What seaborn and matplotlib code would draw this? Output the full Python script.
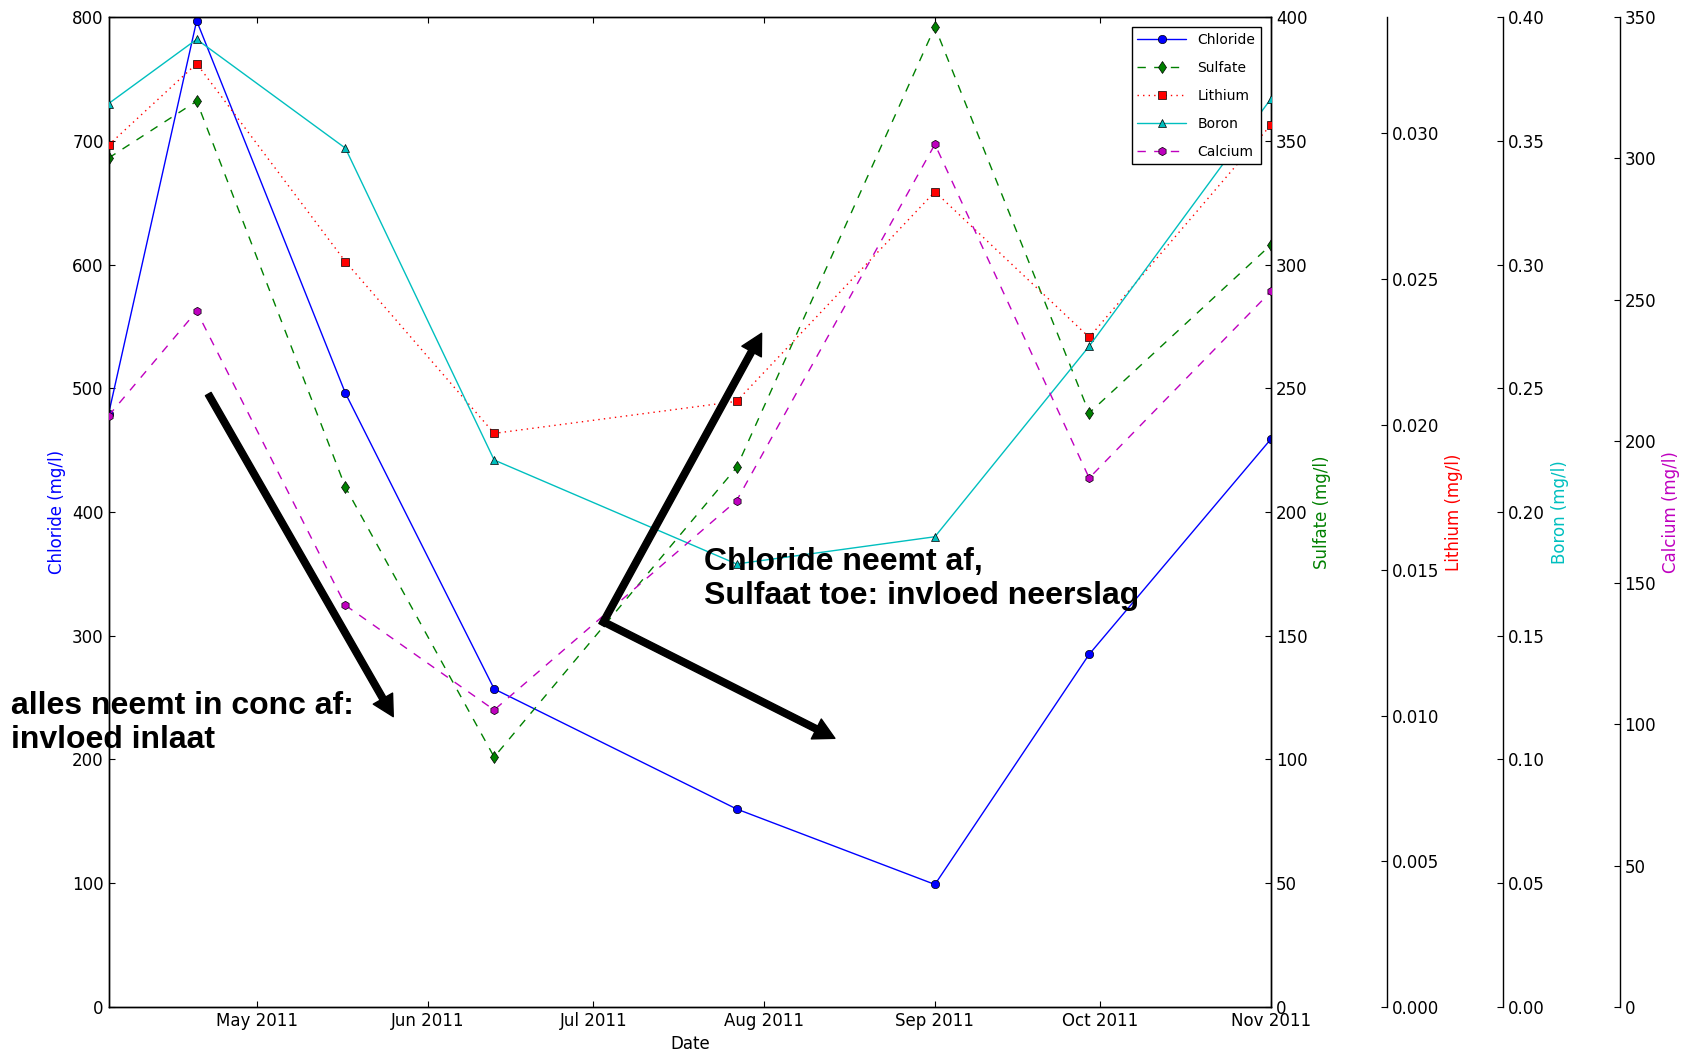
import pandas as pd
import seaborn as sns
import matplotlib.pyplot as plt
import matplotlib.dates as mdates
from matplotlib.ticker import MultipleLocator, FormatStrFormatter

# sampling dates and concentrations (mg/l)
dates = pd.to_datetime(['2011-04-04', '2011-04-20', '2011-05-17', '2011-06-13',
                        '2011-07-27', '2011-09-01', '2011-09-29', '2011-11-01'])
chloride = [479, 797, 496, 257, 160, 99, 285, 459]
sulfate = [343, 366, 210, 101, 218, 396, 240, 308]
lithium = [0.0296, 0.0324, 0.0256, 0.0197, 0.0208, 0.0280, 0.0230, 0.0303]
boron = [0.365, 0.391, 0.347, 0.221, 0.179, 0.190, 0.267, 0.367]
calcium = [209, 246, 142, 105, 179, 305, 187, 253]

names = ['Chloride', 'Sulfate', 'Lithium', 'Boron', 'Calcium']
series = [chloride, sulfate, lithium, boron, calcium]

# look of each series / axis
colors = ['#0000ff', '#008000', '#ff0000', '#00bfbf', '#bf00bf']
markers = ['o', 'd', 's', '^', 'h']
styles = ['-', '--', ':', '-', '--']
tops = [800, 400, 0.034, 0.40, 350]
steps = [100, 50, 0.005, 0.05, 50]
formats = ['%d', '%d', '%.3f', '%.2f', '%d']

sns.set_style('ticks')
plt.rcParams.update({
    'font.family': ['DejaVu Sans'],
    'text.color': 'black',
    'axes.labelcolor': 'black',
    'xtick.color': 'black',
    'ytick.color': 'black',
    'xtick.direction': 'in',
    'ytick.direction': 'in',
    'xtick.top': True,
    'xtick.major.size': 4,
    'ytick.major.size': 4,
    'lines.linewidth': 1.0,
    'lines.dashed_pattern': [6, 6],
    'lines.dotted_pattern': [1, 3],
    'axes.linewidth': 1.0,
    'axes.edgecolor': 'black',
})

fig, ax = plt.subplots(figsize=(16.85, 10.51), dpi=100)
fig.subplots_adjust(left=0.0644, right=0.7543, top=0.9838, bottom=0.0419)

# one main axis + 4 twins, three of them pushed out to the right
axes = [ax] + [ax.twinx() for _ in range(4)]
for i, extra in enumerate(axes[2:]):
    extra.set_frame_on(True)
    extra.patch.set_visible(False)
    for sp in extra.spines.values():
        sp.set_visible(False)
    extra.spines['right'].set_visible(True)
    extra.spines['right'].set_position(('axes', 1.1 + 0.1 * i))

handles = []
for a, vals, name, c, m, ls, top, step, fmt in zip(axes, series, names, colors, markers,
                                                   styles, tops, steps, formats):
    sns.lineplot(x=dates, y=vals, ax=a, color=c, marker=m, linestyle=ls, label=name,
                 markersize=6, markeredgecolor='k', markeredgewidth=0.5)
    a.get_legend().remove()
    handles.append(a.get_lines()[0])
    a.set_ylim(0, top)
    a.yaxis.set_major_locator(MultipleLocator(step))
    a.yaxis.set_major_formatter(FormatStrFormatter(fmt))
    a.set_ylabel(name + ' (mg/l)', color=c, fontsize=12)
    a.tick_params(axis='y', labelsize=12)

ax.set_xlim(dates[0], dates[-1])
ax.xaxis.set_major_locator(mdates.MonthLocator())
ax.xaxis.set_major_formatter(mdates.DateFormatter('%b %Y'))
ax.tick_params(axis='x', labelsize=12)
ax.set_xlabel('Date', fontsize=12)

axes[-1].legend(handles, names, loc='upper right', fontsize=10, numpoints=1,
                handlelength=3.5, labelspacing=1.0, borderaxespad=0.75,
                fancybox=False, edgecolor='k', framealpha=1)

# the hand drawn arrows and comments
arrow = dict(facecolor='black', edgecolor='black', width=4.7, headwidth=16,
             headlength=15, shrink=0)
for tail, tip in [((0.1236, 0.6251), (0.2334, 0.3181)),
                  ((0.3571, 0.4053), (0.4520, 0.6829)),
                  ((0.3580, 0.4085), (0.4955, 0.2975))]:
    axes[-1].annotate('', xy=tip, xytext=tail, xycoords='figure fraction',
                      textcoords='figure fraction', arrowprops=arrow,
                      annotation_clip=False)

fig.text(0.0064, 0.343, 'alles neemt in conc af:\ninvloed inlaat', fontsize=23,
         fontweight='bold', family='Liberation Sans', color='black', va='top', ha='left')
fig.text(0.4178, 0.480, 'Chloride neemt af,\nSulfaat toe: invloed neerslag', fontsize=23,
         fontweight='bold', family='Liberation Sans', color='black', va='top', ha='left')

plt.savefig('out.png', dpi=100)
